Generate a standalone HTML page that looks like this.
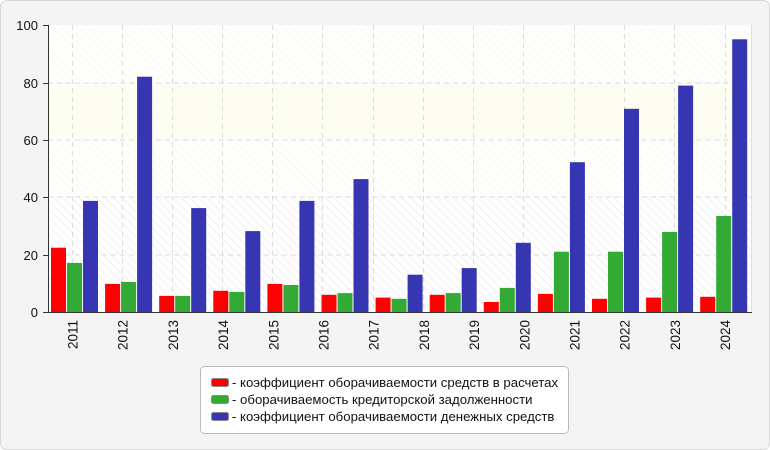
<!DOCTYPE html>
<html><head><meta charset="utf-8"><style>
html,body{margin:0;padding:0;background:#fff}
svg{display:block;font-family:"Liberation Sans",sans-serif}
</style></head><body>
<svg width="770" height="450" xmlns="http://www.w3.org/2000/svg">
<defs>
<pattern id="h" width="6" height="6" patternUnits="userSpaceOnUse" patternTransform="rotate(-45)">
<rect width="6" height="6" fill="#ffffff"/><line x1="0" y1="0" x2="0" y2="6" stroke="#f0f0f0" stroke-width="2"/>
</pattern>
</defs>
<rect x="0.5" y="0.5" width="769" height="449" rx="6" fill="#f4f4f4" stroke="#d8d8d8"/>
<rect x="48" y="25" width="703" height="287" fill="url(#h)"/>
<rect x="48" y="25" width="703" height="57" fill="#fdfdf6" opacity="0.6"/>
<rect x="48" y="140" width="703" height="57" fill="#fdfdf6" opacity="0.6"/>
<rect x="48" y="83" width="703" height="57" fill="#fcfcee" opacity="0.8"/>
<g stroke="#dcdcdc" stroke-dasharray="5,4" stroke-width="1">
<line x1="48" x2="751" y1="83" y2="83"/><line x1="48" x2="751" y1="140" y2="140"/>
<line x1="48" x2="751" y1="197" y2="197"/><line x1="48" x2="751" y1="255" y2="255"/>
<line x1="72.5" x2="72.5" y1="25" y2="312"/><line x1="122.5" x2="122.5" y1="25" y2="312"/><line x1="172.5" x2="172.5" y1="25" y2="312"/><line x1="222.5" x2="222.5" y1="25" y2="312"/><line x1="272.5" x2="272.5" y1="25" y2="312"/><line x1="322.5" x2="322.5" y1="25" y2="312"/><line x1="373.5" x2="373.5" y1="25" y2="312"/><line x1="423.5" x2="423.5" y1="25" y2="312"/><line x1="473.5" x2="473.5" y1="25" y2="312"/><line x1="523.5" x2="523.5" y1="25" y2="312"/><line x1="574.5" x2="574.5" y1="25" y2="312"/><line x1="624.5" x2="624.5" y1="25" y2="312"/><line x1="674.5" x2="674.5" y1="25" y2="312"/><line x1="725.5" x2="725.5" y1="25" y2="312"/>
</g>
<line x1="751.5" x2="751.5" y1="25" y2="312" stroke="#e0e0e0"/>
<g id="bars"></g>
<line x1="48.5" x2="48.5" y1="25" y2="312" stroke="#333"/>
<line x1="48" x2="752" y1="312.5" y2="312.5" stroke="#333"/>
<g stroke="#333">
<line x1="43" x2="48" y1="25.5" y2="25.5"/><line x1="43" x2="48" y1="83.5" y2="83.5"/><line x1="43" x2="48" y1="140.5" y2="140.5"/><line x1="43" x2="48" y1="197.5" y2="197.5"/><line x1="43" x2="48" y1="255.5" y2="255.5"/><line x1="43" x2="48" y1="312.5" y2="312.5"/>
</g>
<g font-size="13" fill="#111" text-anchor="end">
<text x="38" y="30">100</text><text x="38" y="88">80</text><text x="38" y="145">60</text><text x="38" y="202">40</text><text x="38" y="260">20</text><text x="38" y="317">0</text>
</g>
<g font-size="13.5" fill="#111" text-anchor="end" id="xl"></g>
<rect x="200.5" y="366.5" width="368" height="67" rx="4" fill="#fff" stroke="#bbb"/>
<rect x="211.5" y="378.5" width="17" height="8" rx="2" fill="#ff0000" stroke="#888"/>
<rect x="211.5" y="395.5" width="17" height="8" rx="2" fill="#33aa33" stroke="#888"/>
<rect x="211.5" y="412.5" width="17" height="8" rx="2" fill="#3636b3" stroke="#888"/>
<g font-size="13.2" fill="#111">
<text x="232" y="387">- коэффициент оборачиваемости средств в расчетах</text>
<text x="232" y="404">- оборачиваемость кредиторской задолженности</text>
<text x="232" y="421">- коэффициент оборачиваемости денежных средств</text>
</g>
</svg>
<script>
var d=[[22.4,17.1,38.7],[9.8,10.5,82],[5.6,5.6,36.2],[7.4,7.0,28.2],[9.8,9.4,38.7],[6.0,6.6,46.3],[5.0,4.6,13.0],[6.0,6.6,15.3],[3.5,8.4,24.1],[6.3,21.0,52.2],[4.6,21.0,70.8],[5.0,27.9,78.9],[5.3,33.5,95]];
var c=["#ff0000","#33aa33","#3636b3"],g=document.getElementById("bars"),s="";
d.forEach(function(r,i){var x0=51+i*54.1;r.forEach(function(v,j){var h=v*2.87;s+='<rect x="'+(x0+j*16).toFixed(1)+'" y="'+(312-h).toFixed(1)+'" width="15" height="'+h.toFixed(1)+'" fill="'+c[j]+'"/>';});});
g.innerHTML=s;
var xl=document.getElementById("xl"),t="";
for(var i=0;i<14;i++){var x=72.5+i*50.2;t+='<text transform="translate('+(x+5)+',320) rotate(-90)">'+(2011+i)+'</text>';}
xl.innerHTML=t;
</script>
</body></html>
